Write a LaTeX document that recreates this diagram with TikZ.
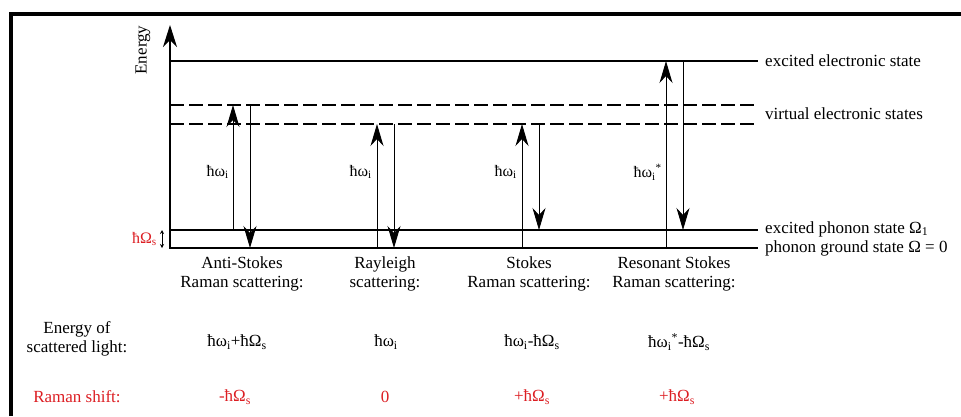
\documentclass[tikz,border=0pt]{standalone}
\usepackage{fontspec}
\setmainfont{Liberation Serif}
\usetikzlibrary{arrows.meta}
\definecolor{shiftred}{RGB}{220,30,35}
\newcommand\lsub[1]{\textsubscript{#1}}
\begin{document}
\begin{tikzpicture}[x=1pt,y=-1pt,
  level/.style={line width=1.1pt},
  virt/.style={line width=1.1pt, dash pattern=on 14pt off 5pt},
  trans/.style={line width=1pt, -{Stealth[length=22pt,width=13pt,inset=7pt]}},
  lbl/.style={font=\fontsize{17}{19}\selectfont, align=center, inner sep=0pt},
  statelbl/.style={lbl, anchor=west},
  tlbl/.style={font=\fontsize{16}{18}\selectfont, anchor=east, inner sep=0pt},
  redlbl/.style={lbl, text=shiftred},
]
\useasboundingbox (0,0) rectangle (961,416);

% frame
\draw[line width=4pt, line join=miter] (11,416) -- (11,14) -- (961,14);

% energy axis
\coordinate (axB) at (170,248.5);
\coordinate (axT) at (170,25);
\draw[line width=1.1pt, -{Stealth[length=22pt,width=14pt,inset=7pt]}] (axB) -- (axT);
\node[lbl, rotate=90] (energy) at (143,50) {Energy};

% energy levels
\coordinate (exL) at (170,61);  \coordinate (exR) at (758,61);
\coordinate (v1L) at (170,105); \coordinate (v1R) at (758,105);
\coordinate (v2L) at (170,124); \coordinate (v2R) at (758,124);
\coordinate (p1L) at (170,230); \coordinate (p1R) at (758,230);
\coordinate (p0L) at (170,248); \coordinate (p0R) at (758,248);
\draw[level] (exL) -- (exR);
\draw[virt] (v1L) -- (v1R);
\draw[virt] (v2L) -- (v2R);
\draw[level] (p1L) -- (p1R);
\draw[level] (p0L) -- (p0R);

\node[statelbl] (lex) at (765,61) {excited electronic state};
\node[statelbl] (lvi) at (765,114) {virtual electronic states};
\node[statelbl] (lp1) at (765,229) {excited phonon state Ω\lsub{1}};
\node[statelbl] (lp0) at (765,248) {phonon ground state Ω = 0};

% phonon energy
\coordinate (phA) at (162,230);
\coordinate (phB) at (162,248);
\draw[line width=0.9pt, {Stealth[length=4pt,width=4pt]}-{Stealth[length=4pt,width=4pt]}] (phA) -- (phB);
\node[tlbl, text=shiftred] (hOm) at (157,239) {ħΩ\lsub{s}};

% anti-Stokes
\coordinate (asA) at (233,230); \coordinate (asB) at (233,105);
\coordinate (asC) at (250,105); \coordinate (asD) at (250,248);
\draw[trans] (asA) -- (asB);
\draw[trans] (asC) -- (asD);
\node[tlbl] (asw) at (229,172) {ħω\lsub{i}};

% Rayleigh
\coordinate (raA) at (377,248); \coordinate (raB) at (377,124);
\coordinate (raC) at (394,124); \coordinate (raD) at (394,248);
\draw[trans] (raA) -- (raB);
\draw[trans] (raC) -- (raD);
\node[tlbl] (raw) at (372,172) {ħω\lsub{i}};

% Stokes
\coordinate (stA) at (522,248); \coordinate (stB) at (522,124);
\coordinate (stC) at (539,124); \coordinate (stD) at (539,230);
\draw[trans] (stA) -- (stB);
\draw[trans, line width=0.8pt] (stC) -- (stD);
\node[tlbl] (stw) at (517,172) {ħω\lsub{i}};

% resonant Stokes
\coordinate (rsA) at (666,248); \coordinate (rsB) at (666,61);
\coordinate (rsC) at (683,61);  \coordinate (rsD) at (683,230);
\draw[trans] (rsA) -- (rsB);
\draw[trans, line width=0.8pt] (rsC) -- (rsD);
\node[tlbl] (rsw) at (662,172) {ħω\lsub{i}\textsuperscript{*}};

% process names
\node[lbl] (nas) at (242,274) {Anti-Stokes\\Raman scattering:};
\node[lbl] (nra) at (385,274) {Rayleigh\\scattering:};
\node[lbl] (nst) at (529,274) {Stokes\\Raman scattering:};
\node[lbl] (nrs) at (674,274) {Resonant Stokes\\Raman scattering:};

% energy of scattered light
\node[lbl] (eh) at (77,339) {Energy of\\scattered light:};
\node[lbl] (eas) at (237,342) {ħω\lsub{i}+ħΩ\lsub{s}};
\node[lbl] (era) at (386,342) {ħω\lsub{i}};
\node[lbl] (est) at (532,342) {ħω\lsub{i}-ħΩ\lsub{s}};
\node[lbl] (ers) at (679,342) {ħω\lsub{i}\textsuperscript{*}-ħΩ\lsub{s}};

% Raman shift
\node[redlbl] (rh) at (77,397) {Raman shift:};
\node[redlbl] (ras) at (235,397) {-ħΩ\lsub{s}};
\node[redlbl] (rra) at (385,397) {0};
\node[redlbl] (rst) at (532,397) {+ħΩ\lsub{s}};
\node[redlbl] (rrs) at (677,397) {+ħΩ\lsub{s}};
\end{tikzpicture}
\end{document}
